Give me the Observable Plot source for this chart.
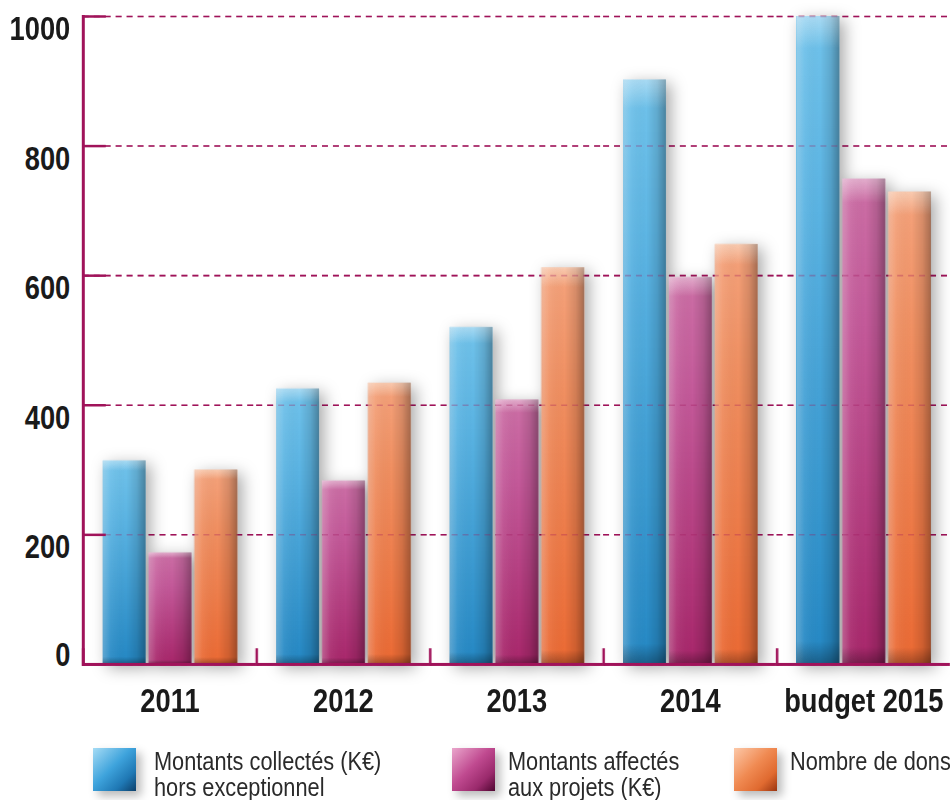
<!DOCTYPE html>
<html><head><meta charset="utf-8">
<script src="https://cdn.jsdelivr.net/npm/d3@7"></script>
<script src="https://cdn.jsdelivr.net/npm/@observablehq/plot@0.6"></script>
<style>
html,body{margin:0;padding:0;background:#fff;overflow:hidden;width:950px;height:800px;}
#chart{position:absolute;left:0;top:0;}
.legend{position:absolute;left:0;top:0;width:950px;height:800px;pointer-events:none;font-family:"Liberation Sans",Arial,sans-serif;font-size:25px;line-height:26px;color:#2a2a2a;}
.sw{position:absolute;top:748px;width:43px;height:43px;box-shadow:5px 5px 9px rgba(0,0,0,0.28);}
.lab{position:absolute;top:748px;white-space:nowrap;transform:scaleX(0.87);transform-origin:left top;}
</style>
</head><body>
<div id="chart"></div>
<div class="legend" id="legend"></div>
<script>
const years = ["2011", "2012", "2013", "2014", "budget 2015"];
const collectes = [314, 425, 520, 902, 1000];
const affectes = [172, 283, 408, 597, 749];
const dons = [300, 434, 612, 648, 729];
const seriesNames = ["Montants collectés (K€) hors exceptionnel", "Montants affectés aux projets (K€)", "Nombre de dons"];
const legendLines = [["Montants collectés (K€)", "hors exceptionnel"], ["Montants affectés", "aux projets (K€)"], ["Nombre de dons"]];
const yTicks = [0, 200, 400, 600, 800, 1000];

const valuesBySeries = [collectes, affectes, dons];
const table = years.flatMap((year, i) => seriesNames.map((s, j) => ({year, series: s, value: valuesBySeries[j][i]})));

const AX = "#a0135a";
const FONT = "'Liberation Sans',Arial,sans-serif";

function defs() {
  const ns = "http://www.w3.org/2000/svg";
  const d = document.createElementNS(ns, "defs");
  d.innerHTML = `
  <linearGradient id="gBlue" x1="0" y1="0" x2="0" y2="1">
    <stop offset="0" stop-color="#93d2f1"/><stop offset="0.05" stop-color="#6ec1ea"/>
    <stop offset="0.3" stop-color="#5bb4e3"/><stop offset="1" stop-color="#2588c4"/></linearGradient>
  <linearGradient id="gPink" x1="0" y1="0" x2="0" y2="1">
    <stop offset="0" stop-color="#dc98c0"/><stop offset="0.05" stop-color="#cb6ca4"/>
    <stop offset="0.3" stop-color="#c45a9a"/><stop offset="1" stop-color="#a8276b"/></linearGradient>
  <linearGradient id="gOrange" x1="0" y1="0" x2="0" y2="1">
    <stop offset="0" stop-color="#f8bd9c"/><stop offset="0.05" stop-color="#f4a078"/>
    <stop offset="0.3" stop-color="#f09062"/><stop offset="1" stop-color="#eb6a34"/></linearGradient>
  <linearGradient id="gEdge" x1="0" y1="0" x2="1" y2="0">
    <stop offset="0" stop-color="#e8e8e8" stop-opacity="0.28"/>
    <stop offset="0.18" stop-color="#ffffff" stop-opacity="0.06"/>
    <stop offset="0.55" stop-color="#000" stop-opacity="0"/>
    <stop offset="0.8" stop-color="#000" stop-opacity="0.12"/>
    <stop offset="1" stop-color="#000" stop-opacity="0.32"/></linearGradient>
  <linearGradient id="gShade" x1="0" y1="0" x2="0" y2="1">
    <stop offset="0" stop-color="#fff" stop-opacity="0.2"/>
    <stop offset="0.05" stop-color="#fff" stop-opacity="0"/>
    <stop offset="0.965" stop-color="#000" stop-opacity="0"/>
    <stop offset="1" stop-color="#000" stop-opacity="0.3"/></linearGradient>`;
  return d;
}

const plot = Plot.plot({
  width: 953,
  height: 730,
  marginTop: 16,
  marginBottom: 64,
  marginLeft: 83,
  marginRight: 0,
  style: {fontFamily: FONT, background: "transparent", overflow: "visible"},
  fx: {domain: years, padding: 0},
  x: {domain: seriesNames, paddingInner: 0.075, paddingOuter: 0.42, axis: null},
  y: {domain: [0, 1000], axis: null},
  color: {domain: seriesNames, range: ["url(#gBlue)", "url(#gPink)", "url(#gOrange)"]},
  marks: [
    defs,
    Plot.gridY({ticks: yTicks, stroke: AX, strokeOpacity: 1, strokeWidth: 1.6, strokeDasharray: "6,5"}),
    Plot.barY(table, {fx: "year", x: "series", y: "value", fill: "series"}),
    Plot.barY(table, {fx: "year", x: "series", y: "value", fill: "url(#gEdge)"}),
    Plot.barY(table, {fx: "year", x: "series", y: "value", fill: "url(#gShade)"}),
    Plot.gridY({ticks: yTicks, stroke: AX, strokeOpacity: 0.3, strokeWidth: 1.6, strokeDasharray: "6,5"}),
    Plot.ruleY([0], {stroke: AX, strokeWidth: 3}),
    Plot.frame({anchor: "left", stroke: AX, strokeWidth: 2.5, insetTop: 635}),
    Plot.frame({anchor: "left", facet: "super", stroke: AX, strokeWidth: 3}),
    Plot.axisY({ticks: yTicks, tickSize: 23, dx: 23, tickFormat: () => "", stroke: AX, strokeWidth: 2.5, label: null}),
    Plot.axisY({ticks: yTicks.filter(t => t > 0), tickFormat: d3.format("d"), tickSize: 0, tickPadding: 13, dy: 13, fontSize: 33, fontWeight: "bold", fill: "#1a1a1a", label: null}),
    Plot.axisY({ticks: [0], tickFormat: d3.format("d"), tickSize: 0, tickPadding: 13, dy: -9, fontSize: 33, fontWeight: "bold", fill: "#1a1a1a", label: null}),
    Plot.axisFx({anchor: "bottom", tickSize: 0, tickPadding: 24, fontSize: 33, fontWeight: "bold", fill: "#1a1a1a", label: null})
  ]
});
document.getElementById("chart").appendChild(plot);

// condensed look for the bold tick labels
plot.querySelectorAll('g[aria-label="y-axis tick label"] text, g[aria-label="fx-axis tick label"] text').forEach(t => {
  const w = t.getComputedTextLength();
  if (w > 0) {
    t.setAttribute("textLength", (w * 0.83).toFixed(1));
    t.setAttribute("lengthAdjust", "spacingAndGlyphs");
  }
});

// soft shadow behind the coloured bars
plot.querySelectorAll('g[aria-label="bar"]').forEach(g => {
  const r = g.querySelector("rect");
  if (r && /g(Blue|Pink|Orange)/.test(r.getAttribute("fill") || "")) {
    g.style.filter = "drop-shadow(5px 4px 8px rgba(0,0,0,0.34))";
  }
});

// legend
const swatchGrad = [
  "linear-gradient(135deg,#a6dcf5 0%,#3ea3dc 45%,#1f78b4 75%,#0c3f6a 100%)",
  "linear-gradient(135deg,#eaa6cc 0%,#c04a90 45%,#9a2a6c 75%,#4e0630 100%)",
  "linear-gradient(135deg,#fcc8a8 0%,#f08a52 45%,#e06a30 75%,#9a3510 100%)"
];
const swX = [93, 452, 734];
const labX = [154, 508, 790];
const leg = document.getElementById("legend");
legendLines.forEach((lines, i) => {
  const sw = document.createElement("div");
  sw.className = "sw"; sw.style.left = swX[i] + "px"; sw.style.background = swatchGrad[i];
  leg.appendChild(sw);
  const lab = document.createElement("div");
  lab.className = "lab"; lab.style.left = labX[i] + "px";
  lab.innerHTML = lines.join("<br>");
  leg.appendChild(lab);
});
</script>
</body></html>
